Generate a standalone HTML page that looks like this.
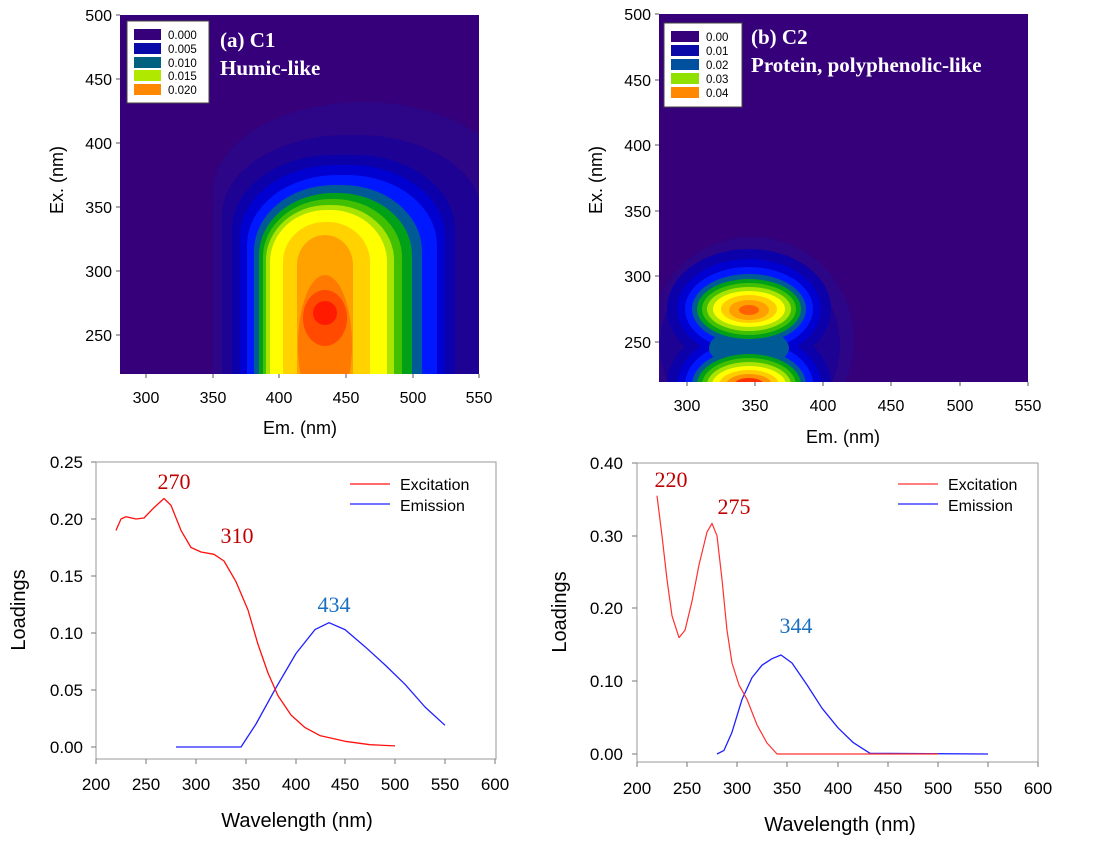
<!DOCTYPE html>
<html><head><meta charset="utf-8"><style>
html,body{margin:0;padding:0;background:#fff;}
svg{display:block;}
.t{font-family:"Liberation Sans",sans-serif;fill:#000;}
.s{font-family:"Liberation Serif",serif;}
</style></head><body>
<svg width="1094" height="846" viewBox="0 0 1094 846" xmlns="http://www.w3.org/2000/svg">
<defs>
<clipPath id="ca"><rect x="120" y="15" width="359" height="359"/></clipPath>
<clipPath id="cb"><rect x="659" y="14" width="369" height="368"/></clipPath>
</defs>

<!-- ===== Contour (a) ===== -->
<g clip-path="url(#ca)">
<rect x="120" y="15" width="359" height="359" fill="#36007a"/>
<rect x="213" y="102" width="300" height="400" rx="150" ry="90" fill="#2c0686"/>
<rect x="222" y="135" width="260" height="400" rx="125" ry="80" fill="#1e0294"/>
<rect x="232" y="155" width="223" height="400" rx="100" ry="75" fill="#0c00aa"/>
<rect x="240" y="165" width="205" height="400" rx="95" ry="72" fill="#0000d0"/>
<rect x="247" y="175" width="190" height="400" rx="90" ry="70" fill="#0018ff"/>
<rect x="254" y="185" width="168" height="400" rx="80" ry="66" fill="#005a96"/>
<rect x="259" y="193" width="153" height="400" rx="74" ry="62" fill="#00a018"/>
<rect x="263" y="199" width="139" height="400" rx="68" ry="58" fill="#40c000"/>
<rect x="266" y="205" width="128" height="400" rx="62" ry="55" fill="#a8e400"/>
<rect x="270" y="210" width="117" height="400" rx="56" ry="52" fill="#ffff00"/>
<rect x="283" y="222" width="87" height="400" rx="42" ry="40" fill="#ffd200"/>
<rect x="297" y="235" width="56" height="400" rx="28" ry="30" fill="#ffa200"/>
<ellipse cx="325" cy="345" rx="27" ry="70" fill="#ff7a00"/>
<ellipse cx="325" cy="318" rx="22" ry="28" fill="#ff4a00"/>
<ellipse cx="325" cy="313" rx="12" ry="12" fill="#ff1a00"/>
</g>
<g stroke="#555" stroke-width="1">
<line x1="146" y1="374" x2="146" y2="378"/><line x1="213" y1="374" x2="213" y2="378"/><line x1="279" y1="374" x2="279" y2="378"/><line x1="346" y1="374" x2="346" y2="378"/><line x1="413" y1="374" x2="413" y2="378"/><line x1="479" y1="374" x2="479" y2="378"/>
<line x1="116" y1="15" x2="120" y2="15"/><line x1="116" y1="79" x2="120" y2="79"/><line x1="116" y1="143" x2="120" y2="143"/><line x1="116" y1="207" x2="120" y2="207"/><line x1="116" y1="271" x2="120" y2="271"/><line x1="116" y1="335" x2="120" y2="335"/>
</g>
<g class="t" font-size="16" text-anchor="end">
<text x="112" y="21">500</text><text x="112" y="85">450</text><text x="112" y="149">400</text><text x="112" y="213">350</text><text x="112" y="277">300</text><text x="112" y="341">250</text>
</g>
<g class="t" font-size="16" text-anchor="middle">
<text x="146" y="403">300</text><text x="213" y="403">350</text><text x="279" y="403">400</text><text x="346" y="403">450</text><text x="413" y="403">500</text><text x="479" y="403">550</text>
<text x="300" y="434" font-size="18">Em. (nm)</text>
<text transform="translate(63,180) rotate(-90)" font-size="18">Ex. (nm)</text>
</g>
<rect x="127" y="21" width="82" height="82" fill="#fff" stroke="#444"/>
<rect x="134" y="29" width="27" height="11" fill="#36007a"/>
<rect x="134" y="43" width="27" height="11" fill="#0a0aa8"/>
<rect x="134" y="57" width="27" height="11" fill="#006080"/>
<rect x="134" y="70" width="27" height="11" fill="#b0e800"/>
<rect x="134" y="84" width="27" height="11" fill="#ff8800"/>
<g class="t" font-size="11.5">
<text x="168" y="39">0.000</text><text x="168" y="53">0.005</text><text x="168" y="67">0.010</text><text x="168" y="80">0.015</text><text x="168" y="94">0.020</text>
</g>
<g class="s" font-size="21" font-weight="bold" fill="#fff">
<text x="220" y="47">(a) C1</text><text x="220" y="75">Humic-like</text>
</g>

<!-- ===== Contour (b) ===== -->
<g clip-path="url(#cb)">
<rect x="659" y="14" width="369" height="368" fill="#36007a"/>
<ellipse cx="752" cy="340" rx="102" ry="103" fill="#2c0686"/>
<ellipse cx="750" cy="345" rx="90" ry="90" fill="#1e0294"/>
<ellipse cx="749" cy="309" rx="82" ry="60" fill="#0c00aa"/><ellipse cx="749" cy="385" rx="82" ry="62" fill="#0c00aa"/>
<ellipse cx="749" cy="309" rx="72" ry="50" fill="#0000d0"/><ellipse cx="749" cy="385" rx="72" ry="52" fill="#0000d0"/>
<ellipse cx="749" cy="309" rx="64" ry="42" fill="#0018ff"/><ellipse cx="749" cy="385" rx="64" ry="44" fill="#0018ff"/>
<ellipse cx="749" cy="348" rx="40" ry="20" fill="#005a96"/>
<ellipse cx="749" cy="309" rx="57" ry="35" fill="#005a96"/><ellipse cx="749" cy="385" rx="57" ry="36" fill="#005a96"/>
<ellipse cx="749" cy="309" rx="52" ry="30" fill="#00a018"/><ellipse cx="749" cy="385" rx="52" ry="31" fill="#00a018"/>
<ellipse cx="749" cy="309" rx="47" ry="26" fill="#40c000"/><ellipse cx="749" cy="385" rx="47" ry="27" fill="#40c000"/>
<ellipse cx="749" cy="309" rx="42" ry="22" fill="#a8e400"/><ellipse cx="749" cy="385" rx="42" ry="23" fill="#a8e400"/>
<ellipse cx="749" cy="309" rx="36" ry="18" fill="#ffff00"/><ellipse cx="749" cy="385" rx="37" ry="19" fill="#ffff00"/>
<ellipse cx="749" cy="309" rx="28" ry="14" fill="#ffcc00"/><ellipse cx="749" cy="385" rx="30" ry="15" fill="#ffcc00"/>
<ellipse cx="749" cy="310" rx="20" ry="10" fill="#ffa000"/><ellipse cx="749" cy="385" rx="23" ry="11" fill="#ff9000"/>
<ellipse cx="749" cy="310" rx="10" ry="5" fill="#ff6000"/><ellipse cx="749" cy="385" rx="15" ry="7" fill="#ff3000"/>
</g>
<g stroke="#555" stroke-width="1">
<line x1="687" y1="382" x2="687" y2="386"/><line x1="755" y1="382" x2="755" y2="386"/><line x1="823" y1="382" x2="823" y2="386"/><line x1="891" y1="382" x2="891" y2="386"/><line x1="960" y1="382" x2="960" y2="386"/><line x1="1028" y1="382" x2="1028" y2="386"/>
<line x1="655" y1="14" x2="659" y2="14"/><line x1="655" y1="80" x2="659" y2="80"/><line x1="655" y1="145" x2="659" y2="145"/><line x1="655" y1="211" x2="659" y2="211"/><line x1="655" y1="276" x2="659" y2="276"/><line x1="655" y1="342" x2="659" y2="342"/>
</g>
<g class="t" font-size="16" text-anchor="end">
<text x="651" y="20">500</text><text x="651" y="86">450</text><text x="651" y="151">400</text><text x="651" y="217">350</text><text x="651" y="282">300</text><text x="651" y="348">250</text>
</g>
<g class="t" font-size="16" text-anchor="middle">
<text x="687" y="411">300</text><text x="755" y="411">350</text><text x="823" y="411">400</text><text x="891" y="411">450</text><text x="960" y="411">500</text><text x="1028" y="411">550</text>
<text x="843" y="443" font-size="18">Em. (nm)</text>
<text transform="translate(602,180) rotate(-90)" font-size="18">Ex. (nm)</text>
</g>
<rect x="664" y="23" width="78" height="84" fill="#fff" stroke="#444"/>
<rect x="671" y="31" width="28" height="11" fill="#36007a"/>
<rect x="671" y="45" width="28" height="11" fill="#0a0aa8"/>
<rect x="671" y="59" width="28" height="11" fill="#0050a0"/>
<rect x="671" y="73" width="28" height="11" fill="#90e000"/>
<rect x="671" y="87" width="28" height="11" fill="#ff8800"/>
<g class="t" font-size="11.5">
<text x="706" y="41">0.00</text><text x="706" y="55">0.01</text><text x="706" y="69">0.02</text><text x="706" y="83">0.03</text><text x="706" y="97">0.04</text>
</g>
<g class="s" font-size="21" font-weight="bold" fill="#fff">
<text x="751" y="44">(b) C2</text><text x="751" y="72">Protein, polyphenolic-like</text>
</g>

<!-- ===== Loadings (a) ===== -->
<rect x="96" y="462" width="400" height="297" fill="none" stroke="#999" stroke-width="1"/>
<g stroke="#777">
<line x1="96" y1="759" x2="96" y2="764"/><line x1="146" y1="759" x2="146" y2="764"/><line x1="196" y1="759" x2="196" y2="764"/><line x1="246" y1="759" x2="246" y2="764"/><line x1="296" y1="759" x2="296" y2="764"/><line x1="345" y1="759" x2="345" y2="764"/><line x1="395" y1="759" x2="395" y2="764"/><line x1="445" y1="759" x2="445" y2="764"/><line x1="495" y1="759" x2="495" y2="764"/>
<line x1="91" y1="462" x2="96" y2="462"/><line x1="91" y1="519" x2="96" y2="519"/><line x1="91" y1="576" x2="96" y2="576"/><line x1="91" y1="633" x2="96" y2="633"/><line x1="91" y1="690" x2="96" y2="690"/><line x1="91" y1="747" x2="96" y2="747"/>
</g>
<g class="t" font-size="17" text-anchor="end">
<text x="83" y="468">0.25</text><text x="83" y="525">0.20</text><text x="83" y="582">0.15</text><text x="83" y="639">0.10</text><text x="83" y="696">0.05</text><text x="83" y="753">0.00</text>
</g>
<g class="t" font-size="17" text-anchor="middle">
<text x="96" y="790">200</text><text x="146" y="790">250</text><text x="196" y="790">300</text><text x="246" y="790">350</text><text x="296" y="790">400</text><text x="345" y="790">450</text><text x="395" y="790">500</text><text x="445" y="790">550</text><text x="495" y="790">600</text>
<text x="297" y="827" font-size="20">Wavelength (nm)</text>
<text transform="translate(25,610) rotate(-90)" font-size="20">Loadings</text>
</g>
<polyline fill="none" stroke="#2020ff" stroke-width="1.3" stroke-linejoin="round" points="176,747 241,747 256,724 276,687.7 296,653.5 315,629.6 329,622.7 345,629.6 365,646.7 385,664.9 405,684.3 425,707 445,725.3"/>
<polyline fill="none" stroke="#ff1010" stroke-width="1.3" stroke-linejoin="round" points="116,530.4 121,519 126,516.7 136,519 144,518 154,507.6 164,498.5 171,505.3 181,530.4 191,547.5 201,552 214,554.3 224,561 236,581.7 248,610 258,644.4 268,673 278,695.7 291,715 305,727.6 320,735.6 345,741.3 370,744.7 395,745.9"/>
<line x1="350" y1="484" x2="390" y2="484" stroke="#ff1010" stroke-width="1.3"/>
<line x1="350" y1="504" x2="390" y2="504" stroke="#2020ff" stroke-width="1.3"/>
<g class="t" font-size="16"><text x="400" y="490">Excitation</text><text x="400" y="511">Emission</text></g>
<g class="s" font-size="22" text-anchor="middle">
<text x="174" y="489" fill="#c00000">270</text><text x="237" y="543" fill="#c00000">310</text><text x="334" y="612" fill="#1a6fc0">434</text>
</g>

<!-- ===== Loadings (b) ===== -->
<rect x="637" y="463" width="401" height="299" fill="none" stroke="#999" stroke-width="1"/>
<g stroke="#777">
<line x1="637" y1="762" x2="637" y2="767"/><line x1="687" y1="762" x2="687" y2="767"/><line x1="737" y1="762" x2="737" y2="767"/><line x1="787" y1="762" x2="787" y2="767"/><line x1="838" y1="762" x2="838" y2="767"/><line x1="888" y1="762" x2="888" y2="767"/><line x1="938" y1="762" x2="938" y2="767"/><line x1="988" y1="762" x2="988" y2="767"/><line x1="1038" y1="762" x2="1038" y2="767"/>
<line x1="632" y1="463" x2="637" y2="463"/><line x1="632" y1="536" x2="637" y2="536"/><line x1="632" y1="608" x2="637" y2="608"/><line x1="632" y1="681" x2="637" y2="681"/><line x1="632" y1="754" x2="637" y2="754"/>
</g>
<g class="t" font-size="17" text-anchor="end">
<text x="623" y="469">0.40</text><text x="623" y="542">0.30</text><text x="623" y="614">0.20</text><text x="623" y="687">0.10</text><text x="623" y="760">0.00</text>
</g>
<g class="t" font-size="17" text-anchor="middle">
<text x="637" y="794">200</text><text x="687" y="794">250</text><text x="737" y="794">300</text><text x="787" y="794">350</text><text x="838" y="794">400</text><text x="888" y="794">450</text><text x="938" y="794">500</text><text x="988" y="794">550</text><text x="1038" y="794">600</text>
<text x="840" y="831" font-size="20">Wavelength (nm)</text>
<text transform="translate(566,612) rotate(-90)" font-size="20">Loadings</text>
</g>
<polyline fill="none" stroke="#2020ff" stroke-width="1.3" stroke-linejoin="round" points="717,754 724,750.4 732,732.2 742,699.4 752,677.6 762,665.2 772,658.7 781,655 792,663 807,684.9 822,708.2 838,727.8 853,742.4 870,753.3 988,754"/>
<polyline fill="none" stroke="#ff3030" stroke-width="1.2" stroke-linejoin="round" points="657,495.7 662,535.8 667,579.4 672,615.8 679,637.6 685,630.3 692,601.2 699,564.9 707,532.1 712,523.4 717,535.8 722,579.4 727,630.3 732,663 739,684.9 747,699.4 757,724.9 767,743 777,754 938,754"/>
<line x1="898" y1="484" x2="938" y2="484" stroke="#ff3030" stroke-width="1.2"/>
<line x1="898" y1="504" x2="938" y2="504" stroke="#2020ff" stroke-width="1.3"/>
<g class="t" font-size="16"><text x="948" y="490">Excitation</text><text x="948" y="511">Emission</text></g>
<g class="s" font-size="22" text-anchor="middle">
<text x="671" y="487" fill="#c00000">220</text><text x="734" y="514" fill="#c00000">275</text><text x="796" y="633" fill="#1a6fc0">344</text>
</g>
</svg>
</body></html>
